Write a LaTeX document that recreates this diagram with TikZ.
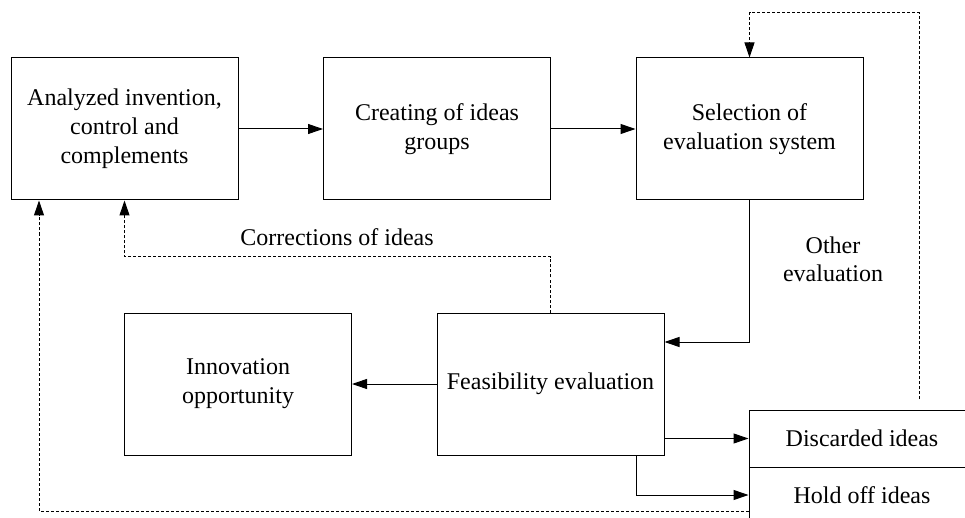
\documentclass[tikz,border=0pt]{standalone}
\usepackage{fontspec}
\setmainfont{Liberation Serif}
\usetikzlibrary{arrows.meta}
\begin{document}
\begin{tikzpicture}[x=1pt,y=-1pt,
  box/.style={draw, line width=1pt, inner sep=0pt, align=center,
    font=\fontsize{24}{29}\selectfont},
  bigbox/.style={box, minimum width=227pt, minimum height=142pt},
  lbl/.style={align=center, inner sep=0pt, font=\fontsize{24}{28}\selectfont},
  arr/.style={line width=1pt, -{Triangle[length=15pt,width=10pt]}},
  darr/.style={arr, dash pattern=on 3pt off 2pt}]
\useasboundingbox (0,0) rectangle (965,518);
\node[bigbox] (A) at (124.5,129) {Analyzed invention,\\control and\\complements};
\node[bigbox] (B) at (437,129) {Creating of ideas\\groups};
\node[bigbox] (C) at (749.5,129) {Selection of\\evaluation system};
\node[bigbox] (D) at (238,384) {Innovation\\opportunity};
\node[bigbox] (E) at (550.5,384) {Feasibility evaluation};
\node[box, minimum width=226pt, minimum height=57pt] (F1) at (862,438.5) {Discarded ideas};
\node[box, minimum width=226pt, minimum height=56pt] (F2) at (862,495) {Hold off ideas};
\node[lbl] (L1) at (337,237) {Corrections of ideas};
\node[lbl] (L2) at (833,259) {Other\\evaluation};
\coordinate (T) at (919,399);
\draw[arr] (A.east) -- (B.west);
\draw[arr] (B.east) -- (C.west);
\draw[arr] (C.south) |- (E.east |- 0,342);
\draw[arr] (E.west) -- (D.east);
\draw[arr] (E.east |- F1.west) -- (F1.west);
\draw[arr] (E.south -| 636,0) |- (F2.west);
\draw[darr] (E.north) |- (A.south |- 0,257) -- (A.south);
\draw[darr] (F2.west |- 0,511) -| (A.south -| 39,0);
\draw[darr] (T) |- (C.north |- 0,13) -- (C.north);
\end{tikzpicture}
\end{document}
